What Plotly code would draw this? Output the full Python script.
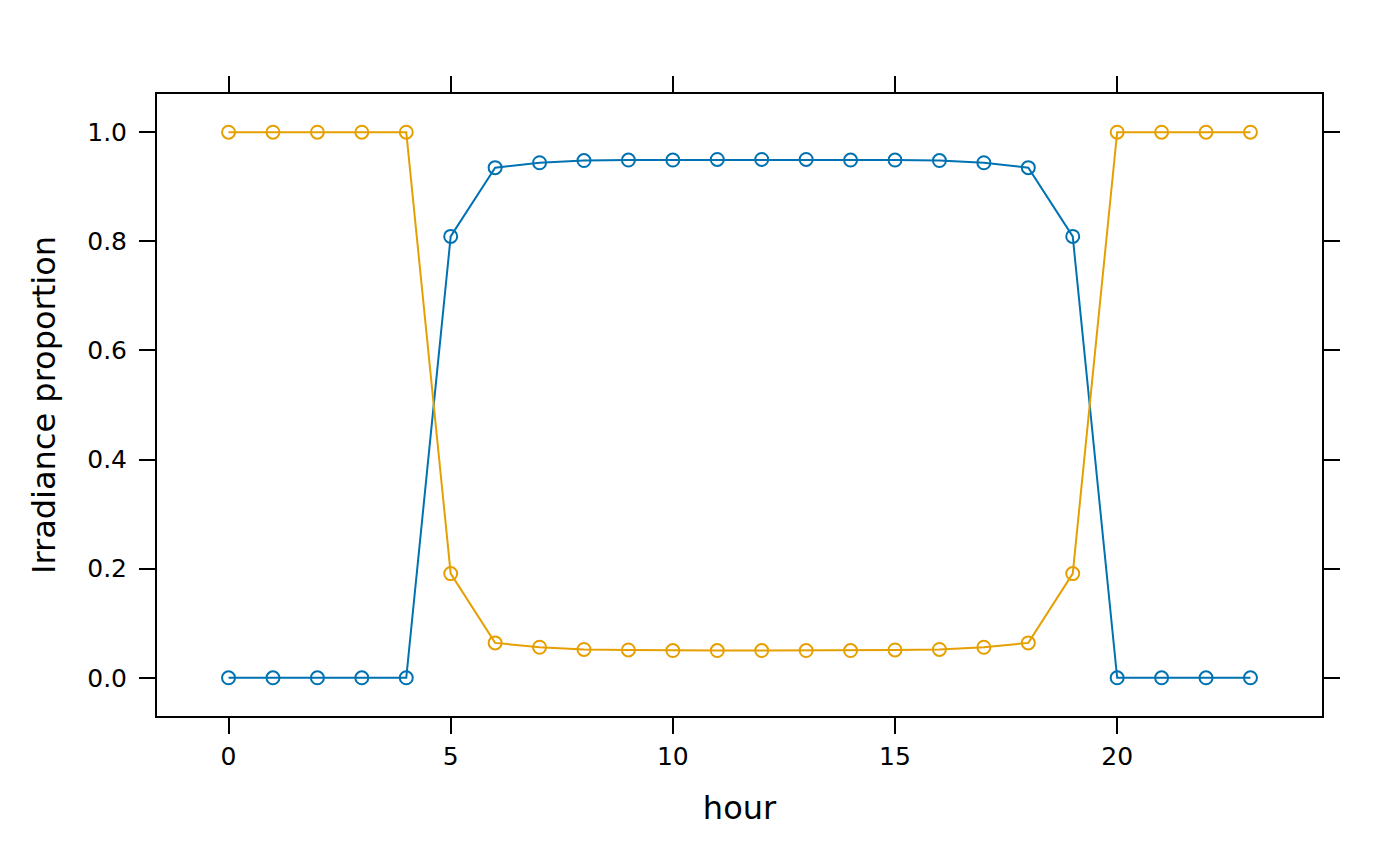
import plotly.graph_objects as go

hours = list(range(24))
direct = [0, 0, 0, 0, 0, 0.809, 0.935, 0.944, 0.948, 0.949, 0.949, 0.950, 0.950, 0.950,
          0.949, 0.949, 0.948, 0.944, 0.935, 0.809, 0, 0, 0, 0]
diffuse = [1, 1, 1, 1, 1, 0.191, 0.064, 0.056, 0.052, 0.051, 0.050, 0.050, 0.050, 0.050,
           0.050, 0.051, 0.052, 0.056, 0.064, 0.191, 1, 1, 1, 1]

colors = ["#0072B2", "#E69F00"]
font = "DejaVu Sans"

fig = go.Figure()
for ys, c, name in [(direct, colors[0], "direct"), (diffuse, colors[1], "diffuse")]:
    fig.add_trace(go.Scatter(
        x=hours, y=ys, mode="lines+markers", name=name,
        line=dict(color=c, width=2),
        marker=dict(symbol="circle-open", size=13, color=c, line=dict(width=2, color=c)),
    ))

axis_common = dict(
    showline=True, linecolor="black", linewidth=2, mirror="ticks",
    ticks="outside", ticklen=16, tickwidth=2, tickcolor="black",
    showgrid=False, zeroline=False,
    tickfont=dict(family=font, size=25, color="black"),
)

fig.update_layout(
    width=1400, height=866,
    margin=dict(l=149, r=86, t=86, b=158),
    plot_bgcolor="white", paper_bgcolor="white",
    showlegend=False,
    xaxis=dict(range=[-1.61, 24.61], tickvals=[0, 5, 10, 15, 20],
               title=dict(text="hour", font=dict(family=font, size=32, color="black"), standoff=27),
               ticklabelstandoff=1, **axis_common),
    yaxis=dict(range=[-0.07, 1.07], tickvals=[0, 0.2, 0.4, 0.6, 0.8, 1.0], tickformat=".1f",
               title=dict(text="Irradiance proportion", font=dict(family=font, size=32, color="black"), standoff=22),
               ticklabelstandoff=7, **axis_common),
)

fig.write_html("out.html")
